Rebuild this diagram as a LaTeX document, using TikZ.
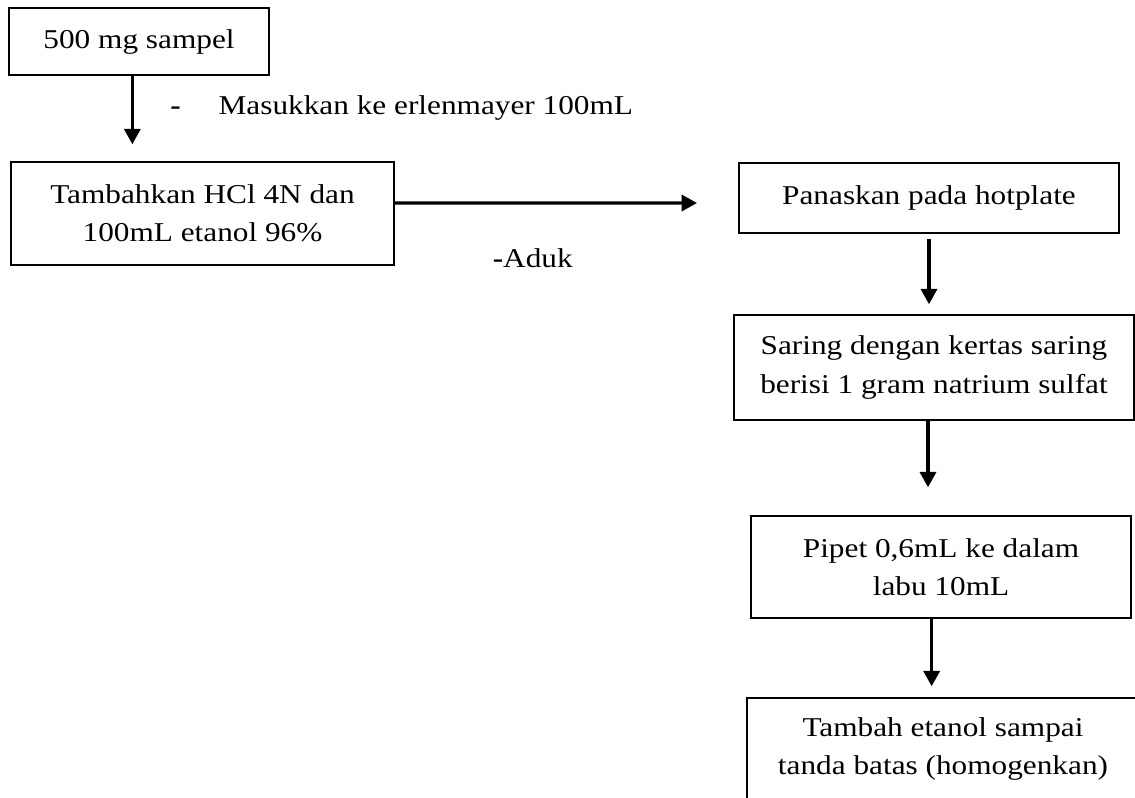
\documentclass[tikz,border=0pt]{standalone}
\usepackage{fontspec}
\setmainfont{Liberation Serif}[FakeStretch=1.15]
\usetikzlibrary{arrows.meta}

\begin{document}
\begin{tikzpicture}[
  x=0.75pt, y=-0.75pt,
  % --- process boxes ---
  stp/.style={
    draw=black, line width=1.1pt, inner sep=0pt, align=center,
    font=\fontsize{20.4}{28.7}\selectfont
  },
  % --- side notes ---
  note/.style={inner sep=0pt, anchor=base west, font=\fontsize{20.4}{28.7}\selectfont},
  % --- arrows ---
  arr/.style={-{Triangle[length=11.5pt, width=12pt]}, line width=2.5pt},
]
\useasboundingbox (0,0) rectangle (1135,797);

% ===================== LEFT COLUMN =====================

\node[stp, minimum width=195pt, minimum height=50.25pt] (sampel) at (139,41.5) {500 mg sampel};
\node[stp, minimum width=287.25pt, minimum height=77.25pt] (hcl) at (202.5,213.5)
  {Tambahkan HCl 4N dan\\100mL etanol 96\%};

\draw[arr, shorten >=12.75pt] ([xshift=-5pt]sampel.south) -- ([xshift=-5pt]sampel.south |- hcl.north);
\node[note] (masuk) at (170,114) {\textbf{-}\hspace{28.5pt}Masukkan ke erlenmayer 100mL};

% ===================== RIGHT COLUMN =====================

\node[stp, minimum width=285pt, minimum height=52.5pt] (panas) at (929,198) {Panaskan pada hotplate};
\node[stp, minimum width=300pt, minimum height=78.75pt] (saring) at (934,367.5)
  {Saring dengan kertas saring\\berisi 1 gram natrium sulfat};
\node[stp, minimum width=285pt, minimum height=76.5pt] (pipet) at (941,567)
  {Pipet 0,6mL ke dalam\\labu 10mL};
\node[stp, minimum width=294pt, minimum height=76.5pt] (etanol) at (943,749)
  {Tambah etanol sampai\\tanda batas (homogenkan)};

% stirring step arrow (free end)
\coordinate (aduk end) at (697,203);
\draw[arr] ([yshift=7.9pt]hcl.east) -- (aduk end);
\node[note] (aduk) at (492.5,267) {\textbf{-}Aduk};

\draw[arr, shorten <=3.75pt, shorten >=7.5pt] (panas.south) -- (panas.south |- saring.north);
\draw[arr, shorten >=21pt] ([xshift=-4.5pt]saring.south) -- ([xshift=-4.5pt]saring.south |- pipet.north);
\draw[arr, shorten >=8.25pt] ([xshift=-7pt]pipet.south) -- ([xshift=-7pt]pipet.south |- etanol.north);

\end{tikzpicture}
\end{document}
